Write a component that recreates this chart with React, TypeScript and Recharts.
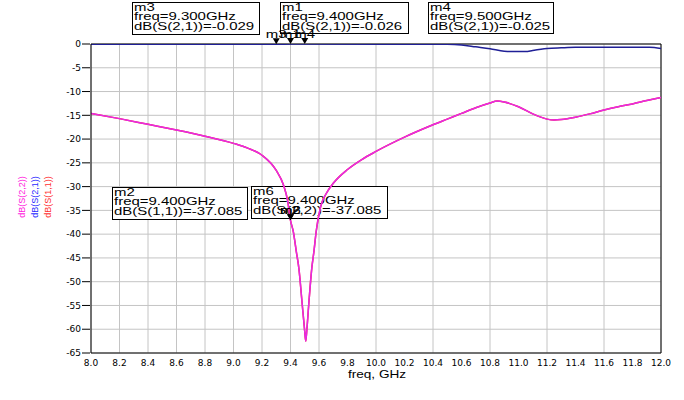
import { LineChart, Line, XAxis, YAxis, CartesianGrid, ReferenceDot, ReferenceLine } from 'recharts';

// axis ticks
const freqTicks = [8.0, 8.2, 8.4, 8.6, 8.8, 9.0, 9.2, 9.4, 9.6, 9.8, 10.0, 10.2, 10.4, 10.6, 10.8, 11.0, 11.2, 11.4, 11.6, 11.8, 12.0];
const dbTicks = [0, -5, -10, -15, -20, -25, -30, -35, -40, -45, -50, -55, -60, -65];
const freqMinorTicks = Array.from({ length: 41 }, (_, i) => 8 + i * 0.1);
const dbMinorTicks = Array.from({ length: 66 }, (_, i) => -i);

// dB(S(2,1))
const s21Freq = [8.0, 8.5, 9.0, 9.3, 9.4, 9.5, 10.0, 10.3, 10.5, 10.6, 10.7, 10.8, 10.9, 10.95, 11.05, 11.1, 11.2, 11.3, 11.4, 11.6, 11.8, 11.92, 12.0];
const s21Db = [-0.03, -0.03, -0.03, -0.029, -0.026, -0.025, -0.03, -0.04, -0.06, -0.2, -0.6, -1.0, -1.5, -1.6, -1.6, -1.35, -0.95, -0.8, -0.7, -0.7, -0.68, -0.7, -0.95];

// dB(S(2,2))
const s22Freq = [8.0, 8.2, 8.4, 8.6, 8.8, 9.0, 9.1, 9.2, 9.3, 9.35, 9.38, 9.4, 9.42, 9.44, 9.46, 9.48, 9.5, 9.507, 9.515, 9.53, 9.55, 9.565, 9.58, 9.61, 9.65, 9.7, 9.8, 9.9, 10.0, 10.2, 10.4, 10.5, 10.6, 10.7, 10.8, 10.85, 10.9, 11.0, 11.1, 11.2, 11.25, 11.3, 11.4, 11.5, 11.6, 11.7, 11.8, 11.9, 12.0];
const s22Db = [-14.6, -15.7, -16.9, -18.1, -19.4, -20.9, -21.9, -23.4, -26.6, -29.6, -33.0, -37.085, -39.5, -43.5, -47.5, -54, -60.5, -62.5, -60, -54, -47, -43.5, -39.5, -34.4, -31.5, -29.3, -26.4, -24.3, -22.6, -19.6, -17.0, -15.8, -14.6, -13.4, -12.4, -12.0, -12.2, -13.2, -14.7, -15.8, -16.0, -15.9, -15.4, -14.7, -13.9, -13.2, -12.6, -11.9, -11.25];
// S(1,1) is identical to S(2,2) here (see m2 / m6), its trace sits underneath
const s11Db = s22Db;

const s21Markers = [
  { name: 'm3', freq: 9.3, db: -0.029 },
  { name: 'm1', freq: 9.4, db: -0.026 },
  { name: 'm4', freq: 9.5, db: -0.025 },
];
const s22Markers = [
  { name: 'm2', freq: 9.4, db: -37.085 },
  { name: 'm6', freq: 9.4, db: -37.085 },
];

const markerBoxes = [
  { x: 132, y: 2, w: 127, h: 32, lines: ['m3', 'freq=9.300GHz', 'dB(S(2,1))=-0.029'] },
  { x: 280, y: 2, w: 128, h: 31, lines: ['m1', 'freq=9.400GHz', 'dB(S(2,1))=-0.026'] },
  { x: 428, y: 2, w: 125, h: 31, lines: ['m4', 'freq=9.500GHz', 'dB(S(2,1))=-0.025'] },
  { x: 112, y: 187, w: 135, h: 32, lines: ['m2', 'freq=9.400GHz', 'dB(S(1,1))=-37.085'] },
  { x: 251, y: 186, w: 136, h: 32, lines: ['m6', 'freq=9.400GHz', 'dB(S(2,2))=-37.085'] },
];

const s21Data = s21Freq.map((f, i) => ({ freq: f, s21: s21Db[i] }));
const s22Data = s22Freq.map((f, i) => ({ freq: f, s22: s22Db[i], s11: s11Db[i] }));

const ADS_FONT = '"Liberation Sans", Arial, sans-serif';
const STRETCH = 1.36;

function MarkerShape({ cx, cy, name }: { cx: number; cy: number; name: string }) {
  return (
    <g>
      <path d={`M${cx - 3.5},${cy - 6} L${cx + 3.5},${cy - 6} L${cx},${cy} Z`} fill='#000' />
      <text
        x={cx}
        y={cy - 6.5}
        textAnchor='middle'
        fontSize={11}
        fontFamily={ADS_FONT}
        fill='#000'
        transform={`translate(${cx} 0) scale(${STRETCH} 1) translate(${-cx} 0)`}
      >
        {name}
      </text>
    </g>
  );
}

function InfoBox({ x, y, w, h, lines }: { x: number; y: number; w: number; h: number; lines: string[] }) {
  return (
    <g>
      <rect x={x + 0.5} y={y + 0.5} width={w} height={h} fill='#fff' stroke='#000' strokeWidth={1} />
      {lines.map((t, i) => (
        <text
          key={i}
          x={0}
          y={y + 9 + i * 9.5}
          fontSize={11}
          fontFamily={ADS_FONT}
          fill='#000'
          transform={`translate(${x + 2} 0) scale(${STRETCH} 1)`}
        >
          {t}
        </text>
      ))}
    </g>
  );
}

// axis id 0 = minor ticks next to the plot (also used by the traces), id 1 = labelled major ticks + grid
export default function App() {
  return (
    <div style={{ position: 'absolute', left: 0, top: 0, width: 684, height: 400, background: '#fff' }}>
      <LineChart width={684} height={400} margin={{ top: 44, right: 23, bottom: 7, left: 0 }}>
        <CartesianGrid xAxisId={1} yAxisId={1} stroke='#c4c4c4' strokeWidth={1} />
        <XAxis
          xAxisId={0}
          type='number'
          dataKey='freq'
          domain={[8, 12]}
          allowDataOverflow
          ticks={freqMinorTicks}
          height={1}
          tick={false}
          tickSize={4}
          tickLine={{ stroke: '#000' }}
          axisLine={{ stroke: '#000' }}
        />
        <XAxis
          xAxisId={1}
          type='number'
          dataKey='freq'
          domain={[8, 12]}
          allowDataOverflow
          ticks={freqTicks}
          height={39}
          tickLine={false}
          axisLine={false}
          tickSize={4}
          tickMargin={2}
          tickFormatter={(v: number) => v.toFixed(1)}
          tick={{ fontSize: 9, fill: '#000', fontFamily: 'DejaVu Sans' }}
        />
        <YAxis
          yAxisId={0}
          type='number'
          domain={[-65, 0]}
          allowDataOverflow
          ticks={dbMinorTicks}
          width={1}
          tick={false}
          tickSize={4}
          tickLine={{ stroke: '#000' }}
          axisLine={{ stroke: '#000' }}
        />
        <YAxis
          yAxisId={1}
          type='number'
          domain={[-65, 0]}
          allowDataOverflow
          ticks={dbTicks}
          width={90}
          axisLine={false}
          tickSize={8}
          tickMargin={1}
          tickLine={{ stroke: '#000' }}
          tick={{ fontSize: 9, fill: '#000', fontFamily: 'DejaVu Sans' }}
        />
        <ReferenceLine x={12} stroke='#000' strokeWidth={1} />
        <ReferenceLine y={0} stroke='#000' strokeWidth={1} />

        {markerBoxes.map((b) => (
          <InfoBox key={b.lines[0]} {...b} />
        ))}

        <text
          x={377}
          y={378}
          textAnchor='middle'
          fontSize={10}
          fontFamily={ADS_FONT}
          fill='#000'
          transform={`translate(377 0) scale(${STRETCH} 1) translate(-377 0)`}
        >
          freq, GHz
        </text>
        <text transform='translate(21.5 197) rotate(-90)' textAnchor='middle' dominantBaseline='central' fontSize={9} fontFamily={ADS_FONT} fill='#ff22dd'>
          dB(S(2,2))
        </text>
        <text transform='translate(34.5 197) rotate(-90)' textAnchor='middle' dominantBaseline='central' fontSize={9} fontFamily={ADS_FONT} fill='#2a2aff'>
          dB(S(2,1))
        </text>
        <text transform='translate(48 197) rotate(-90)' textAnchor='middle' dominantBaseline='central' fontSize={9} fontFamily={ADS_FONT} fill='#ff3030'>
          dB(S(1,1))
        </text>

        <Line data={s22Data} dataKey='s11' type='monotone' stroke='#ff2020' strokeWidth={1.5} dot={false} isAnimationActive={false} />
        <Line data={s22Data} dataKey='s22' type='monotone' stroke='#e62ae6' strokeWidth={1.5} dot={false} isAnimationActive={false} />
        <Line data={s21Data} dataKey='s21' type='monotone' stroke='#1f1f96' strokeWidth={1.5} dot={false} isAnimationActive={false} />

        {s21Markers.map((m) => (
          <ReferenceDot key={m.name} x={m.freq} y={m.db} r={0} shape={(p: any) => <MarkerShape cx={p.cx} cy={p.cy} name={m.name} />} />
        ))}
        {s22Markers.map((m) => (
          <ReferenceDot key={m.name} x={m.freq} y={m.db} r={0} shape={(p: any) => <MarkerShape cx={p.cx} cy={p.cy} name={m.name} />} />
        ))}
      </LineChart>
    </div>
  );
}
